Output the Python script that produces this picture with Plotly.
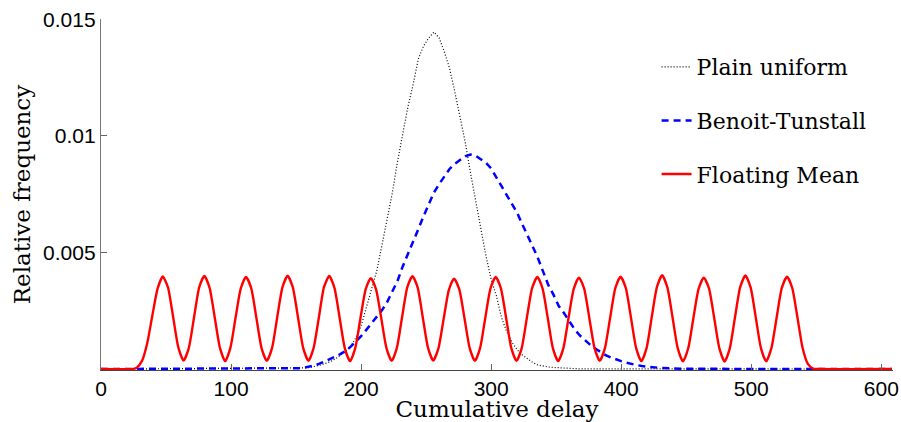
"""Relative frequency of cumulative delay for three schemes."""

import numpy as np
import plotly.graph_objects as go

# Plain uniform: sampled every 4 units between 148 and 368, zero elsewhere
plain_x = np.concatenate([[0.0], np.arange(148, 369, 4), [608.0]])
plain_y = [0.0,
           0.00002, 0.00003, 0.00005, 0.00007, 0.00011, 0.00016, 0.00023, 0.00031, 0.00043, 0.00058,
           0.00075, 0.00097, 0.00135, 0.00185, 0.00260, 0.00335, 0.00420, 0.00530, 0.00640, 0.00755,
           0.00890, 0.01010, 0.01125, 0.01220, 0.01330, 0.01385, 0.01420, 0.01445, 0.01420, 0.01360,
           0.01290, 0.01190, 0.01080, 0.00975, 0.00845, 0.00720, 0.00595, 0.00485, 0.00385, 0.00315,
           0.00220, 0.00160, 0.00115, 0.00083, 0.00060, 0.00042, 0.00028, 0.00017, 0.00012, 0.00009,
           0.00007, 0.00005, 0.00004, 0.00003, 0.00002, 0.00001,
           0.0]

# Benoit-Tunstall: sampled every 4 units between 140 and 448
bt_x = np.concatenate([[0.0], np.arange(140, 449, 4), [608.0]])
bt_y = [0.0,
        0.00001, 0.00002, 0.00003, 0.00004, 0.00006, 0.00009, 0.00015, 0.00023, 0.00032, 0.00043,
        0.00053, 0.00064, 0.00078, 0.00096, 0.00117, 0.00141, 0.00168, 0.00195, 0.00221, 0.00252,
        0.00287, 0.00330, 0.00378, 0.00440, 0.00493, 0.00540, 0.00600, 0.00655, 0.00710, 0.00757,
        0.00793, 0.00828, 0.00858, 0.00880, 0.00898, 0.00912, 0.00920, 0.00915, 0.00900, 0.00885,
        0.00860, 0.00822, 0.00788, 0.00748, 0.00712, 0.00670, 0.00620, 0.00575, 0.00525, 0.00475,
        0.00415, 0.00360, 0.00318, 0.00270, 0.00240, 0.00205, 0.00172, 0.00145, 0.00123, 0.00105,
        0.00088, 0.00073, 0.00060, 0.00050, 0.00041, 0.00034, 0.00027, 0.00021, 0.00017, 0.00013,
        0.00010, 0.00008, 0.00006, 0.00005, 0.00004, 0.00003, 0.00002, 0.00001,
        0.0]

# Floating Mean: sampled every 4 units between 23.5 and 551.5 (one period per row)
fm_x = np.concatenate([[0.0], np.arange(23.5, 552, 4), [608.0]])
fm_y = [0.0,
        0.00000, 0.00006, 0.00035, 0.00110, 0.00230, 0.00345,
        0.00397, 0.00350, 0.00222, 0.00092, 0.00036, 0.00090, 0.00220, 0.00350,
        0.00399, 0.00348, 0.00220, 0.00090, 0.00034, 0.00091, 0.00221, 0.00346,
        0.00395, 0.00347, 0.00219, 0.00089, 0.00035, 0.00090, 0.00222, 0.00350,
        0.00400, 0.00350, 0.00221, 0.00090, 0.00035, 0.00091, 0.00220, 0.00352,
        0.00399, 0.00348, 0.00220, 0.00089, 0.00034, 0.00090, 0.00218, 0.00342,
        0.00390, 0.00342, 0.00218, 0.00090, 0.00035, 0.00091, 0.00222, 0.00350,
        0.00398, 0.00349, 0.00219, 0.00090, 0.00036, 0.00090, 0.00216, 0.00340,
        0.00388, 0.00342, 0.00218, 0.00090, 0.00035, 0.00090, 0.00220, 0.00346,
        0.00395, 0.00346, 0.00220, 0.00090, 0.00035, 0.00090, 0.00221, 0.00347,
        0.00395, 0.00346, 0.00220, 0.00089, 0.00034, 0.00089, 0.00219, 0.00344,
        0.00392, 0.00345, 0.00219, 0.00090, 0.00035, 0.00090, 0.00220, 0.00347,
        0.00396, 0.00348, 0.00221, 0.00090, 0.00034, 0.00090, 0.00223, 0.00352,
        0.00402, 0.00350, 0.00221, 0.00089, 0.00033, 0.00088, 0.00218, 0.00344,
        0.00392, 0.00346, 0.00220, 0.00089, 0.00032, 0.00089, 0.00222, 0.00351,
        0.00401, 0.00350, 0.00221, 0.00089, 0.00033, 0.00090, 0.00220, 0.00348,
        0.00396, 0.00348, 0.00222, 0.00090, 0.00022, 0.00002, 0.00000,
        0.0]

x_ticks = [0, 100, 200, 300, 400, 500, 600]
y_ticks = [0.005, 0.01, 0.015]
y_tick_labels = ["0.005", "0.01", "0.015"]

SERIF = "DejaVu Serif"
SANS = "Liberation Sans, Arial"

fig = go.Figure()
fig.add_scatter(x=plain_x, y=plain_y, mode="lines", name="Plain uniform", legendgroup="a",
                line=dict(color="black", width=1.2, dash="1px,2px"))
fig.add_scatter(x=bt_x, y=bt_y, mode="lines", name="Benoit-Tunstall", legendgroup="b",
                line=dict(color="#0000ff", width=2.5, dash="7px,5px"))
fig.add_scatter(x=fm_x, y=fm_y, mode="lines", name="Floating Mean", legendgroup="c",
                line=dict(color="#ff0000", width=2.4, shape="spline", smoothing=0.6))

fig.update_layout(
    width=901, height=422,
    margin=dict(l=101, r=8, t=19, b=52),
    paper_bgcolor="white", plot_bgcolor="white",
    legend=dict(x=0.7015, y=0.923, xanchor="left", yanchor="top",
                font=dict(family=SERIF, size=22, color="black"),
                tracegroupgap=22, bgcolor="rgba(0,0,0,0)"),
)
fig.update_xaxes(
    range=[0, 609], tickvals=x_ticks, ticks="inside", ticklen=6, tickcolor="#666",
    showline=True, linecolor="#444", linewidth=1, showgrid=False, zeroline=False,
    automargin=False,
    tickfont=dict(family=SANS, size=21, color="black"),
    title=dict(text="Cumulative delay", font=dict(family=SERIF, size=23, color="black"),
               standoff=3),
)
fig.update_yaxes(
    range=[-0.00004, 0.01501], tickvals=y_ticks, ticktext=y_tick_labels, ticks="inside",
    ticklen=6, tickcolor="#666", showline=True, linecolor="#777", linewidth=1.3,
    showgrid=False, zeroline=False, automargin=False,
    tickfont=dict(family=SANS, size=21, color="black"),
    title=dict(text="Relative frequency", font=dict(family=SERIF, size=23, color="black"),
               standoff=6),
)

# drop the default page margin so the figure fills the window exactly
fig.write_html("out.html", config={"displayModeBar": False},
               post_script="document.body.style.margin='0';document.body.style.overflow='hidden';")
